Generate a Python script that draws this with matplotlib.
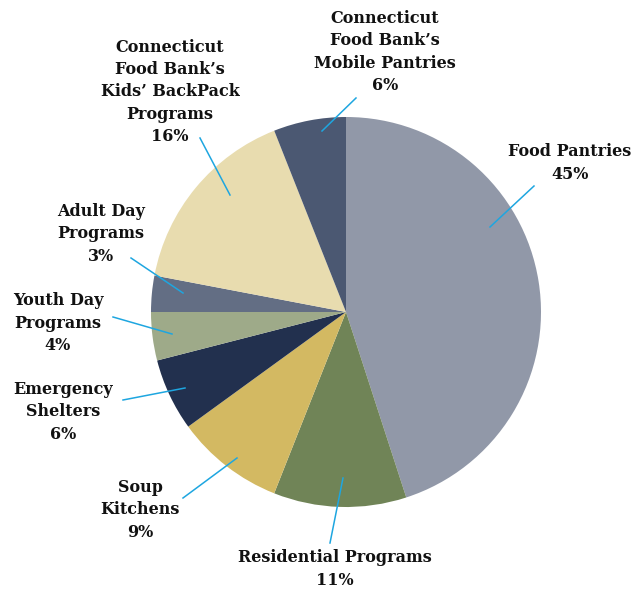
import matplotlib
matplotlib.use('Agg')
import matplotlib.pyplot as plt

# data, clockwise from 12 o'clock
labels = ["Food Pantries", "Residential Programs", "Soup\nKitchens",
          "Emergency\nShelters", "Youth Day\nPrograms", "Adult Day\nPrograms",
          "Connecticut\nFood Bank\u2019s\nKids\u2019 BackPack\nPrograms",
          "Connecticut\nFood Bank\u2019s\nMobile Pantries"]
shares = [45, 11, 9, 6, 4, 3, 16, 6]
colors = ["#9198a8", "#708457", "#d3b962", "#22304e", "#9eaa89", "#636e84",
          "#e8dcaf", "#4b5872"]

# layout in pixels of the 632x590 picture (center of pie at 346,312, r=195)
CX, CY, R = 346, 312, 195
label_px = [(570, 163), (335, 569), (140, 510), (63, 412), (58, 323),
            (101, 234), (170, 92), (385, 52)]
line_px = [((490, 227), (534, 186)), ((343, 478), (330, 543)),
           ((237, 458), (183, 498)), ((185, 388), (123, 400)),
           ((172, 334), (113, 317)), ((183, 293), (131, 258)),
           ((230, 195), (200, 138)), ((322, 131), (356, 98))]


def to_data(p):
    return ((p[0] - CX) / R, (CY - p[1]) / R)


fig = plt.figure(figsize=(6.32, 5.90), dpi=100)
ax = fig.add_axes([0, 0, 1, 1])
ax.pie(shares, colors=colors, startangle=90, counterclock=False, radius=1,
       wedgeprops=dict(linewidth=0))
ax.set_xlim(-CX / R, (632 - CX) / R)
ax.set_ylim(-(590 - CY) / R, CY / R)
ax.set_aspect('equal')
ax.axis('off')

for name, val, pos, seg in zip(labels, shares, label_px, line_px):
    x, y = to_data(pos)
    ax.text(x, y, name + "\n" + str(val) + "%", ha='center', va='center',
            fontsize=11.5, fontweight='bold', family='DejaVu Serif',
            linespacing=1.42, color='#111111')
    a, b = to_data(seg[0]), to_data(seg[1])
    ax.plot([a[0], b[0]], [a[1], b[1]], color='#1ea6e0', linewidth=1.1)

fig.savefig("out.png", dpi=100)
